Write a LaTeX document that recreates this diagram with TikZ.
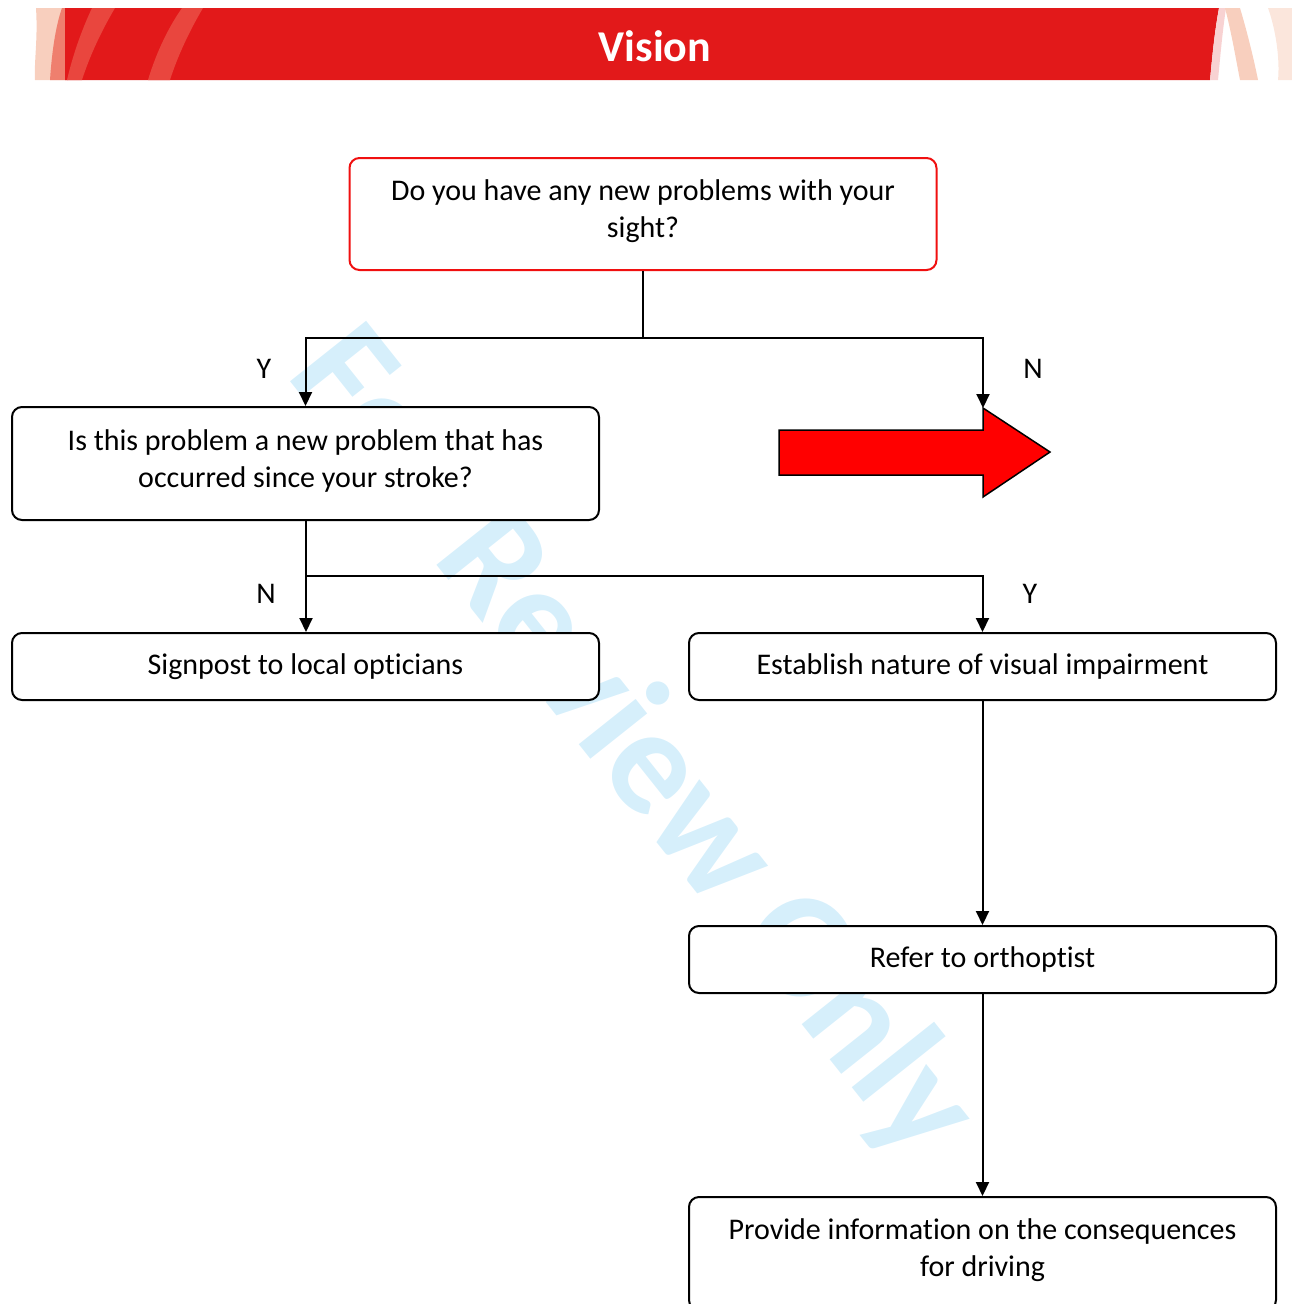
\documentclass[tikz,border=0pt]{standalone}
\usepackage{fontspec}
\setmainfont{Carlito}[RawFeature={-liga;-clig;-calt;-dlig}]
\usetikzlibrary{arrows.meta}
\definecolor{hdrred}{HTML}{E2191A}
\definecolor{hdrlight}{HTML}{E9463E}
\definecolor{hdrsalmon}{HTML}{EF7F6E}
\definecolor{peach}{HTML}{F8CFBE}
\definecolor{peachlight}{HTML}{FBE6DC}
\definecolor{pinklight}{HTML}{F8D2D2}
\definecolor{wmblue}{HTML}{D6EFFB}
\definecolor{boxred}{HTML}{F01010}
\definecolor{arrred}{HTML}{FF0000}
\tikzset{
  box/.style={draw=black, line width=2pt, fill=white, rounded corners=10pt,
    minimum width=587pt, align=center, inner sep=0pt,
    font=\fontsize{30}{37}\selectfont},
  redbox/.style={box, draw=boxred},
  conn/.style={line width=2pt, draw=black},
  arr/.style={conn, -{Triangle[length=14pt,width=13pt]}},
  lbl/.style={font=\fontsize{30}{37}\selectfont, inner sep=0pt},
  boxtext/.style={inner sep=0pt, align=center, font=\fontsize{30}{37}\selectfont},
}
\begin{document}
\begin{tikzpicture}[x=1pt,y=-1pt]
\useasboundingbox (0,0) rectangle (1292,1304);
\clip (0,0) rectangle (1292,1304);
% header band
\fill[peach] (36,8) .. controls (38,40) and (34,60) .. (35,80) -- (66,80) -- (66,8) -- cycle;
\fill[hdrsalmon] (50,80) .. controls (52,50) and (56,25) .. (62,8) -- (68,8) -- (68,80) -- cycle;
\fill[hdrred] (65,8) -- (1219,8) .. controls (1214,35) and (1212,60) .. (1210,80) -- (65,80) -- cycle;
\fill[hdrlight] (67,80) .. controls (74,50) and (84,25) .. (92,8) -- (115,8) .. controls (102,30) and (90,55) .. (82,80) -- cycle;
\fill[hdrlight] (148,80) .. controls (157,50) and (170,25) .. (182,8) -- (203,8) .. controls (190,30) and (178,55) .. (170,80) -- cycle;
\fill[pinklight] (1219,8) -- (1226,8) .. controls (1222,35) and (1220,60) .. (1218,80) -- (1210,80) .. controls (1212,60) and (1214,35) .. (1219,8) -- cycle;
\fill[peach] (1225,8) -- (1240,8) .. controls (1248,35) and (1254,60) .. (1258,80) -- (1240,80) .. controls (1236,60) and (1232,35) .. (1225,8) -- cycle;
\fill[peachlight] (1268,8) -- (1292,8) -- (1292,80) -- (1278,80) .. controls (1280,60) and (1276,30) .. (1268,8) -- cycle;
\node[text=white, font=\bfseries\fontsize{44}{50}\selectfont, inner sep=0pt] (title) at (655,46) {Vision};
% watermark
\node[text=wmblue, font=\bfseries\fontsize{150}{150}\selectfont, rotate=-51.5, anchor=base west, inner sep=0pt] (wm) at (285,375) {For Review Only};
% boxes
\node[redbox, minimum height=112pt] (q1) at (643,214) {};
\node[boxtext] (q1t) at (643,211.5) {Do you have any new problems with your\\sight?};
\node[box, minimum height=113pt] (q2) at (305.5,463.5) {};
\node[boxtext] (q2t) at (305.5,461) {Is this problem a new problem that has\\occurred since your stroke?};
\node[box, minimum height=67pt] (b3) at (305.5,666.5) {Signpost to local opticians};
\node[box, minimum height=67pt] (b4) at (982.5,666.5) {Establish nature of visual impairment};
\node[box, minimum height=67pt] (b5) at (982.5,959.5) {Refer to orthoptist};
\node[box, minimum height=113pt] (b6) at (982.5,1253.5) {};
\node[boxtext] (b6t) at (982.5,1250) {Provide information on the consequences\\for driving};
% red arrow
\draw[fill=arrred, draw=black, line width=1.5pt, line join=miter]
  (779,430) -- (983,430) -- (983,408) -- (1050,452) -- (983,497) -- (983,475) -- (779,475) -- cycle;
\coordinate (arrtop) at (983,408);
% connectors
\coordinate (j1) at (643,338);
\coordinate (j2) at (306,576);
\draw[conn] (q1.south) -- (j1);
\draw[arr] (j1) -| (q2.north);
\draw[arr] (j1) -| (arrtop);
\draw[conn] (q2.south -| j2) -- (j2);
\draw[arr] (j2) -- (b3.north -| j2);
\draw[arr] (j2) -| (b4.north);
\draw[arr] (b4.south) -- (b5.north);
\draw[arr] (b5.south) -- (b6.north);
% labels
\node[lbl] (ly1) at (264,369) {Y};
\node[lbl] (ln1) at (1033,369) {N};
\node[lbl] (ln2) at (266,594) {N};
\node[lbl] (ly2) at (1030,594) {Y};
\end{tikzpicture}
\end{document}
